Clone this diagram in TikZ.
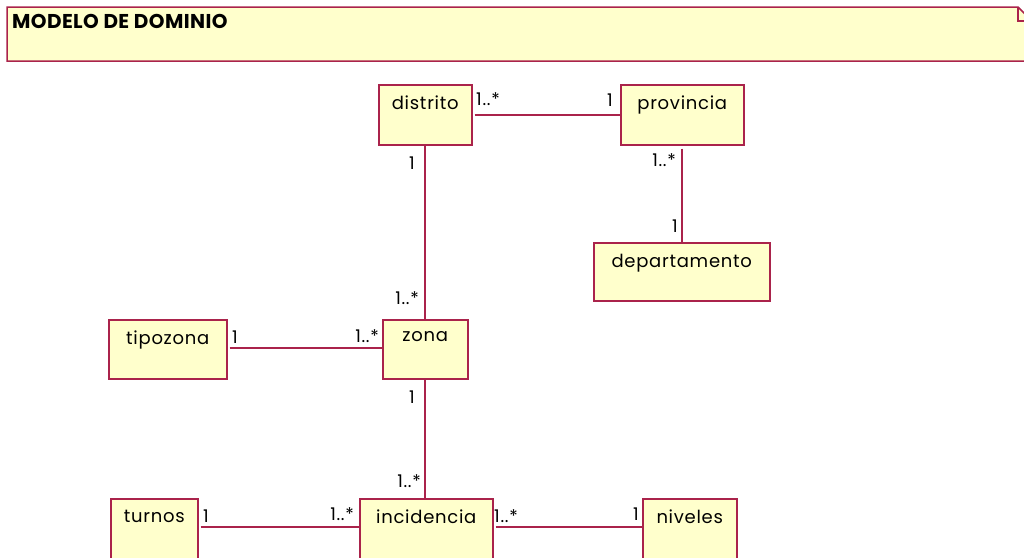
\documentclass[tikz,border=0pt]{standalone}
\usepackage{fontspec}
\setmainfont{Poppins}
\definecolor{umlfill}{RGB}{255,255,204}
\definecolor{umledge}{RGB}{170,35,75}
\begin{document}
\begin{tikzpicture}[x=1pt,y=-1pt,
  cls/.style={draw=umledge,fill=umlfill,line width=1.5pt,anchor=north west,inner sep=0pt},
  clsname/.style={anchor=north,font=\addfontfeature{LetterSpace=4}\fontsize{18}{20}\selectfont,inner sep=0pt},
  assoc/.style={draw=umledge,line width=1.3pt},
  mult/.style={font=\addfontfeature{LetterSpace=4}\fontsize{17.5}{19}\selectfont,inner sep=0pt}]
\useasboundingbox (0,0) rectangle (1024,557);
\clip (0,0) rectangle (1024,557);
% note with folded corner
\filldraw[draw=umledge,fill=umlfill,line width=1.5pt]
  (7,7) -- (1018,7) -- (1032,21) -- (1032,61) -- (7,61) -- cycle;
\draw[umledge,line width=1.2pt] (1018,7) -- (1018,21) -- (1032,21);
\node[anchor=base west,font=\bfseries\addfontfeature{LetterSpace=2}\fontsize{20}{22}\selectfont,inner sep=0pt] (title) at (12,28) {MODELO DE DOMINIO};
% classes
\node[cls,minimum width=93pt,minimum height=60pt] (distrito) at (378,84) {};
\node[cls,minimum width=123pt,minimum height=60pt] (provincia) at (620,84) {};
\node[cls,minimum width=176pt,minimum height=58pt] (departamento) at (593,242) {};
\node[cls,minimum width=118pt,minimum height=59pt] (tipozona) at (108,319) {};
\node[cls,minimum width=85pt,minimum height=59pt] (zona) at (382,319) {};
\node[cls,minimum width=87pt,minimum height=70pt] (turnos) at (110,498) {};
\node[cls,minimum width=133pt,minimum height=70pt] (incidencia) at (359,498) {};
\node[cls,minimum width=94pt,minimum height=70pt] (niveles) at (642,498) {};
% class names
\node[clsname] (tdistrito) at ([yshift=-12pt]distrito.north) {distrito};
\node[clsname] (tprovincia) at ([yshift=-12pt]provincia.north) {provincia};
\node[clsname] (tdepartamento) at ([yshift=-12pt]departamento.north) {departamento};
\node[clsname] (ttipozona) at ([yshift=-12pt]tipozona.north) {tipozona};
\node[clsname] (tzona) at ([yshift=-12pt]zona.north) {zona};
\node[clsname] (tturnos) at ([yshift=-12pt]turnos.north) {turnos};
\node[clsname] (tincidencia) at ([yshift=-12pt]incidencia.north) {incidencia};
\node[clsname] (tniveles) at ([yshift=-12pt]niveles.north) {niveles};
% associations
\draw[assoc] ([xshift=2pt]distrito.east |- 0,115) -- (provincia.west |- 0,115);
\draw[assoc] (distrito.south -| 425,0) -- (zona.north -| 425,0);
\draw[assoc] ([yshift=-3pt]provincia.south -| 682,0) -- (departamento.north -| 682,0);
\draw[assoc] ([xshift=2pt]tipozona.east |- 0,348) -- (zona.west |- 0,348);
\draw[assoc] (zona.south -| 425,0) -- (incidencia.north -| 425,0);
\draw[assoc] ([xshift=2pt]turnos.east |- 0,527) -- (incidencia.west |- 0,527);
\draw[assoc] ([xshift=2pt]incidencia.east |- 0,527) -- (niveles.west |- 0,527);
% multiplicities
\node[mult,anchor=west] (m1) at (476,99) {1..*};
\node[mult,anchor=east] (m2) at (613,100) {1};
\node[mult,anchor=east] (m3) at (415,163) {1};
\node[mult,anchor=east] (m4) at (419,298) {1..*};
\node[mult,anchor=east] (m5) at (676,160) {1..*};
\node[mult,anchor=east] (m6) at (678,226) {1};
\node[mult,anchor=west] (m7) at (232,337) {1};
\node[mult,anchor=east] (m8) at (379,336) {1..*};
\node[mult,anchor=east] (m9) at (415,397) {1};
\node[mult,anchor=east] (m10) at (421,481) {1..*};
\node[mult,anchor=west] (m11) at (203,516) {1};
\node[mult,anchor=east] (m12) at (354,514) {1..*};
\node[mult,anchor=west] (m13) at (494,516) {1..*};
\node[mult,anchor=east] (m14) at (639,514) {1};
\end{tikzpicture}
\end{document}
